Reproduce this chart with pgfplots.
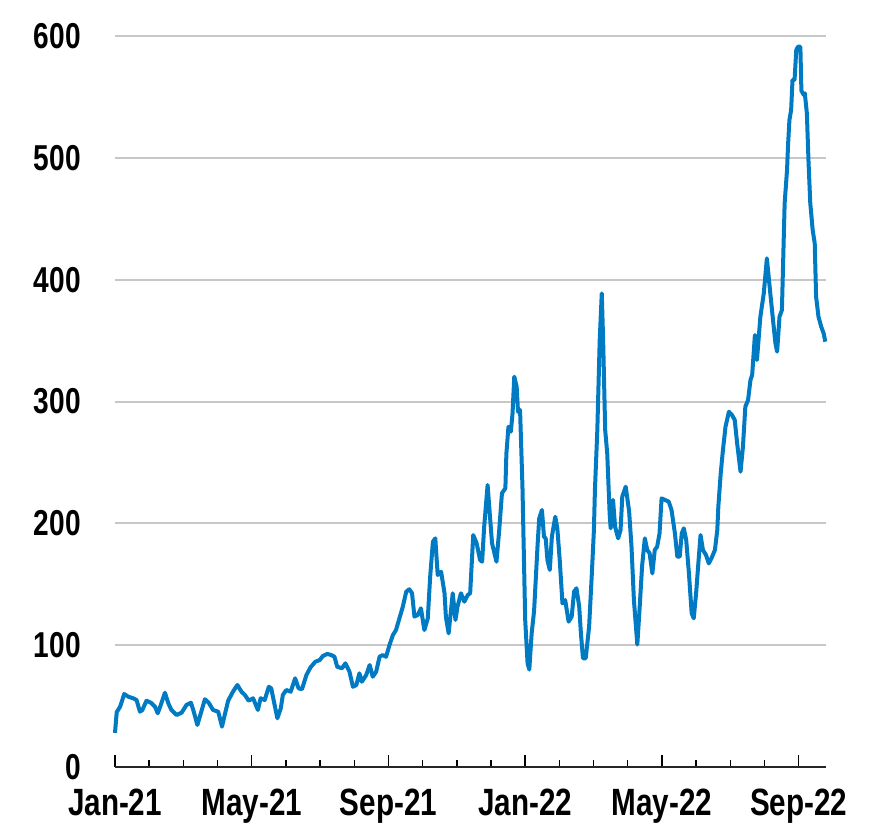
\documentclass[border=0pt]{standalone}
\usepackage{pgfplots}
\pgfplotsset{compat=1.18}
\usepackage{fontspec}
\newfontfamily\lab{Liberation Sans}[FakeStretch=0.78]
\definecolor{lineblue}{RGB}{0,122,195}
\begin{document}
\begin{tikzpicture}
\useasboundingbox (-115pt,-58pt) rectangle (754pt,767pt);
\begin{axis}[
 at={(0,0)}, anchor=south west,
 scale only axis, width=711pt, height=731pt,
 xmin=0, xmax=20.8, ymin=0, ymax=600,
 axis x line*=bottom, axis y line*=left,
 y axis line style={draw=none},
 x axis line style={line width=2pt, draw=black!85, -},
 xtick={0,4,8,12,16,20},
 xticklabels={Jan-21,May-21,Sep-21,Jan-22,May-22,Sep-22},
 minor xtick={1,2,3,5,6,7,9,10,11,13,14,15,17,18,19},
 tick align=inside,
 major tick length=12pt, minor tick length=7pt,
 tick style={black, line width=1.5pt},
 ytick={0,100,...,600},
 ytick style={draw=none},
 ymajorgrids, major grid style={draw=black!22, line width=2pt},
 tick label style={font=\lab\bfseries\fontsize{36}{40}\selectfont},
 /pgf/number format/assume math mode=true,
 yticklabel style={anchor=east, inner sep=0pt, xshift=-34pt},
 xticklabel style={anchor=north, inner sep=0pt, yshift=-22pt, font=\lab\bfseries\fontsize{38}{42}\selectfont},
 clip=false,
]
\addplot[lineblue, line width=4pt, line join=round] coordinates {
(0,28) (0.05,45) (0.15,49.5) (0.27,59.9) (0.39,57.7) (0.53,56.4) (0.63,55) (0.73,45.4) (0.80,46.8) (0.92,54.4)
(1.05,52.8) (1.17,49.5) (1.25,44.1) (1.34,50.9) (1.46,61) (1.56,52.3) (1.65,46.8) (1.80,42.7) (1.95,44.6)
(2.09,50.9) (2.22,52.8) (2.29,46.8) (2.41,34.5) (2.51,44) (2.63,55.6) (2.74,52.8) (2.87,46.8)
(3.02,45.4) (3.13,33.1) (3.21,42.7) (3.31,54.4) (3.45,61.8) (3.58,67.3) (3.70,61.8) (3.80,59.1) (3.91,54.4)
(4.04,56.4) (4.18,46.8) (4.26,56.4) (4.38,55) (4.50,65.9) (4.57,64.6) (4.65,53.6) (4.75,40) (4.85,48.2) (4.91,59.1)
(5.01,63.2) (5.14,61.8) (5.27,72.8) (5.37,64.6) (5.47,63.8) (5.60,75.5) (5.72,81.8) (5.86,86.4) (5.99,87.8)
(6.08,91.1) (6.21,92.8) (6.33,91.9) (6.42,90.5) (6.50,82.3) (6.64,81) (6.74,85.1) (6.86,78.2) (6.96,65.9)
(7.06,67.3) (7.15,76.9) (7.22,70) (7.35,75.5) (7.45,83.7) (7.54,74.1) (7.64,78.2) (7.74,90.5) (7.83,91.9) (7.93,90.5)
(8.03,100.1) (8.13,108.3) (8.22,112.4) (8.32,122) (8.42,131.6) (8.52,143.9) (8.61,145.9) (8.69,142.6) (8.76,123.4) (8.86,124.8) (8.95,130.3)
(9.05,112.4) (9.15,122) (9.22,156.2) (9.30,184.9) (9.37,187.7) (9.44,157.6) (9.54,160.3) (9.64,142.6) (9.68,123.4) (9.76,109.7) (9.88,142.6) (9.96,120.7)
(10.02,131.6) (10.12,142.6) (10.22,135.7) (10.32,141.2) (10.39,142.6) (10.48,190.4) (10.58,183.6) (10.68,169.9) (10.74,168.5) (10.80,197.2) (10.90,231.5) (10.97,205.4)
(11.03,183.6) (11.16,168.5) (11.24,194.5) (11.32,224.7) (11.42,228.8) (11.45,257.3) (11.51,279.3) (11.58,275.2) (11.63,290.3) (11.68,320.4) (11.75,312.2) (11.79,291.6) (11.85,293) (11.92,230.1)
(12.0,120.7) (12.07,85) (12.12,80) (12.19,110) (12.26,128) (12.36,181) (12.41,204) (12.49,211) (12.55,189) (12.60,187.7) (12.65,169.9) (12.72,161.7) (12.78,189) (12.88,205.4) (12.94,195.9)
(13.01,169.9) (13.09,134.3) (13.17,137) (13.27,119.3) (13.36,123.4) (13.43,143.9) (13.50,146.7) (13.58,131.6) (13.63,109.7) (13.69,89.2) (13.77,89.2) (13.87,115.2) (13.95,158.9)
(14.01,194.5) (14.04,227.4) (14.11,276.6) (14.18,350.5) (14.24,388.8) (14.28,350.5) (14.34,276.6) (14.40,257.4) (14.47,208.2) (14.50,195.9) (14.57,219.2) (14.63,197.2) (14.72,187.7) (14.79,194.5) (14.84,221.9) (14.94,230.1)
(15.04,210) (15.11,180.8) (15.18,137.1) (15.28,100.5) (15.35,131.6) (15.42,165) (15.50,187.7) (15.57,178.1) (15.64,175.4) (15.72,158.9) (15.79,178.1) (15.86,180.8) (15.93,191.8) (15.99,220.5)
(16.09,219.2) (16.20,217.8) (16.28,211) (16.38,191.8) (16.45,172.6) (16.52,172.6) (16.58,191.8) (16.64,195.9) (16.71,186.3) (16.79,158.9) (16.87,126.2) (16.93,122)
(17.00,142.6) (17.08,172.6) (17.13,190.4) (17.20,178.1) (17.29,174) (17.37,167.1) (17.45,171.3) (17.55,178.1) (17.62,194.5) (17.65,213.7) (17.72,241) (17.78,258.8) (17.86,279.3) (17.96,291.6)
(18.05,288.9) (18.13,284.8) (18.20,265.7) (18.30,242.4) (18.37,262.9) (18.44,295.7) (18.52,301.2) (18.59,317.6) (18.64,321.8) (18.72,354.6) (18.78,334.1) (18.88,369.6) (18.98,388.8)
(19.07,417.5) (19.17,388.8) (19.24,369.6) (19.32,347.8) (19.37,340.9) (19.44,369.6) (19.51,375.1) (19.59,462.7) (19.66,490) (19.69,510.6) (19.73,531.1) (19.78,539.3) (19.82,563.9) (19.88,563.9) (19.93,588.5) (19.98,591.2)
(20.05,591.2) (20.08,555.1) (20.15,551.6) (20.18,553) (20.24,536.6) (20.29,495.6) (20.34,462.7) (20.41,440.8) (20.47,429.9) (20.51,386) (20.58,369.6) (20.66,361.4) (20.73,356) (20.78,349.1)
};
\end{axis}
\end{tikzpicture}
\end{document}
